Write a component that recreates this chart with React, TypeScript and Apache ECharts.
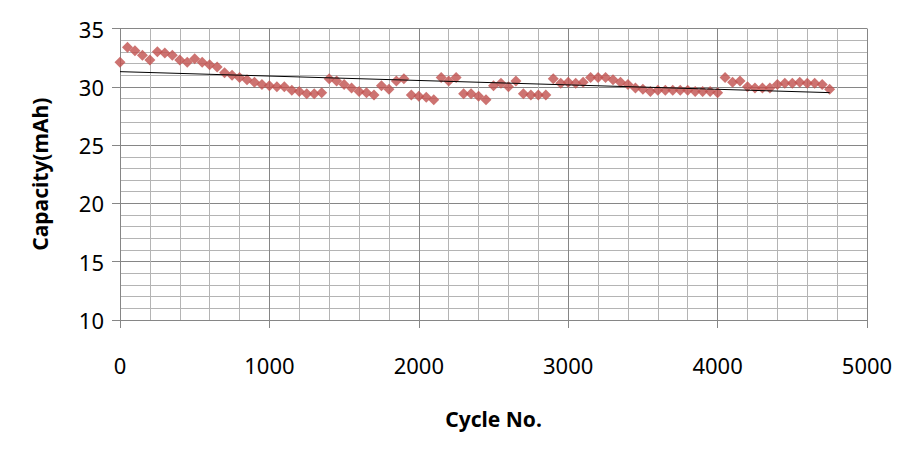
import React, { useEffect, useRef } from "react";
import * as echarts from "echarts";

const cycles: number[] = [
  0, 50, 100, 150, 200, 250, 300, 350, 400, 450, 500, 550, 600, 650, 700, 750, 800, 850, 900, 950,
  1000, 1050, 1100, 1150, 1200, 1250, 1300, 1350, 1400, 1450, 1500, 1550, 1600, 1650, 1700, 1750, 1800, 1850, 1900, 1950,
  2000, 2050, 2100, 2150, 2200, 2250, 2300, 2350, 2400, 2450, 2500, 2550, 2600, 2650, 2700, 2750, 2800, 2850, 2900, 2950,
  3000, 3050, 3100, 3150, 3200, 3250, 3300, 3350, 3400, 3450, 3500, 3550, 3600, 3650, 3700, 3750, 3800, 3850, 3900, 3950,
  4000, 4050, 4100, 4150, 4200, 4250, 4300, 4350, 4400, 4450, 4500, 4550, 4600, 4650, 4700, 4750,
];

const capacity: number[] = [
  32.1, 33.4, 33.1, 32.7, 32.3, 33.0, 32.9, 32.7, 32.3, 32.1, 32.4, 32.1, 31.9, 31.7, 31.2, 31.0, 30.8, 30.6, 30.4, 30.2,
  30.1, 30.0, 30.0, 29.7, 29.6, 29.4, 29.4, 29.5, 30.7, 30.5, 30.2, 29.9, 29.6, 29.5, 29.3, 30.1, 29.8, 30.5, 30.7, 29.3,
  29.2, 29.1, 28.9, 30.8, 30.5, 30.8, 29.4, 29.4, 29.2, 28.9, 30.1, 30.3, 30.0, 30.5, 29.4, 29.3, 29.3, 29.3, 30.7, 30.3,
  30.4, 30.3, 30.4, 30.8, 30.8, 30.8, 30.6, 30.4, 30.2, 29.9, 29.8, 29.6, 29.7, 29.7, 29.7, 29.7, 29.7, 29.6, 29.6, 29.6,
  29.5, 30.8, 30.4, 30.5, 30.0, 29.9, 29.9, 29.9, 30.2, 30.3, 30.3, 30.4, 30.3, 30.3, 30.2, 29.8,
];

// Excel-style linear trendline endpoints
const trendCycles: number[] = [0, 4750];
const trendCapacity: number[] = [31.3, 29.5];

const FONT = "'Noto Sans', 'Noto Sans CJK KR', sans-serif";

export default function App() {
  const ref = useRef<HTMLDivElement>(null);
  useEffect(() => {
    if (!ref.current) return;
    const chart = echarts.init(ref.current, undefined, { renderer: "svg" });
    const majorLine = { show: true, lineStyle: { color: "#868686", width: 1 } };
    const minorLine = { show: true, lineStyle: { color: "#b4b4b4", width: 1 } };
    chart.setOption({
      animation: false,
      backgroundColor: "#ffffff",
      grid: { left: 120, right: 43, top: 28.5, bottom: 135, containLabel: false, show: false },
      xAxis: {
        type: "value",
        min: 0,
        max: 5000,
        interval: 1000,
        name: "Cycle No.",
        nameLocation: "middle",
        nameGap: 88,
        nameTextStyle: { fontFamily: FONT, fontSize: 21, fontWeight: "bold", color: "#000" },
        axisLine: { show: true, lineStyle: { color: "#868686" } },
        axisTick: { show: true, length: 8, lineStyle: { color: "#868686" } },
        axisLabel: { fontFamily: FONT, fontSize: 22, color: "#000", margin: 34, formatter: (v: number) => String(v) },
        splitLine: majorLine,
        minorTick: { show: false, splitNumber: 5 },
        minorSplitLine: minorLine,
      },
      yAxis: {
        type: "value",
        min: 10,
        max: 35,
        interval: 5,
        name: "Capacity(mAh)",
        nameLocation: "middle",
        nameGap: 70,
        nameTextStyle: { fontFamily: FONT, fontSize: 21, fontWeight: "bold", color: "#000" },
        axisLine: { show: true, lineStyle: { color: "#868686" } },
        axisTick: { show: true, length: 8, lineStyle: { color: "#868686" } },
        axisLabel: { fontFamily: FONT, fontSize: 22, color: "#000", margin: 16 },
        splitLine: majorLine,
        minorTick: { show: false, splitNumber: 5 },
        minorSplitLine: minorLine,
      },
      series: [
        {
          type: "scatter",
          data: cycles.map((c, i) => [c, capacity[i]]),
          symbol: "diamond",
          symbolSize: 11,
          itemStyle: { color: "#C0504D" },
          z: 3,
        },
        {
          type: "line",
          data: trendCycles.map((c, i) => [c, trendCapacity[i]]),
          symbol: "none",
          lineStyle: { color: "#000", width: 1 },
          z: 4,
        },
      ],
    });
    return () => chart.dispose();
  }, []);
  return <div ref={ref} style={{ width: 910, height: 455, position: "absolute", left: 0, top: 0 }} />;
}
